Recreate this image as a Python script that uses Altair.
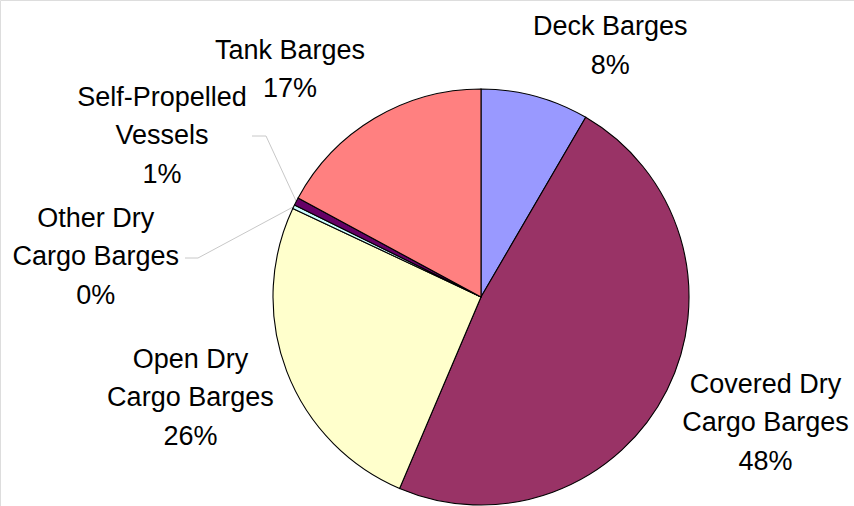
import math
import altair as alt
import pandas as pd

# ---- data ----
categories = ["Deck Barges", "Covered Dry Cargo Barges", "Open Dry Cargo Barges",
              "Other Dry Cargo Barges", "Self-Propelled Vessels", "Tank Barges"]
values = [8.4, 48.0, 25.6, 0.3, 0.6, 17.1]
labels = ["Deck Barges\n8%", "Covered Dry\nCargo Barges\n48%", "Open Dry\nCargo Barges\n26%",
          "Other Dry\nCargo Barges\n0%", "Self-Propelled\nVessels\n1%", "Tank Barges\n17%"]

# ---- style / layout ----
colors = ["#9999FF", "#993366", "#FFFFCC", "#CCFFFF", "#660066", "#FF8080"]
CX, CY, R = 481, 297, 208
LABEL_R = 250
LH = 38.5
label_offsets = [(64, -9), (61, 14), (-57, 12), (-160, 69), (-97, -46), (-63, -12)]
# leader lines: (category index, elbow point, end point)
leaders = [(4, (266, 136), (252, 136)), (3, (198, 258), (185, 258))]

df = pd.DataFrame({"cat": categories, "value": values, "label": labels,
                   "idx": list(range(len(categories)))})

base = alt.Chart(df).encode(
    theta=alt.Theta("value:Q", stack=True),
    order=alt.Order("idx:Q", sort="ascending"),
    x=alt.value(CX), y=alt.value(CY),
)

pie = base.mark_arc(outerRadius=R, stroke="black", strokeWidth=1.1).encode(
    color=alt.Color("cat:N", scale=alt.Scale(domain=categories, range=colors), legend=None)
)

text_layers = []
for i, name in enumerate(categories):
    dx, dy = label_offsets[i]
    n_lines = labels[i].count("\n") + 1
    dy = dy - (n_lines - 1) * LH / 2
    t = base.mark_text(radius=LABEL_R, dx=dx, dy=dy, fontSize=27, font="Liberation Sans",
                       lineBreak="\n", lineHeight=LH, align="center", baseline="middle",
                       color="black").encode(
        text=alt.condition(alt.datum.cat == name, "label:N", alt.value(""))
    )
    text_layers.append(t)

# leader line geometry from the slice mid-angles
total = sum(values)
cum = 0
mids = []
for v in values:
    mids.append((cum + v / 2) / total * 2 * math.pi)
    cum += v
rows = []
for g, (ci, elbow, end) in enumerate(leaders):
    a = mids[ci]
    px, py = CX + R * math.sin(a), CY - R * math.cos(a)
    for k, (xx, yy) in enumerate([(px, py), elbow, end]):
        rows.append({"lx": xx, "ly": yy, "grp": g, "ord": k})
ldf = pd.DataFrame(rows)
lines = alt.Chart(ldf).mark_line(color="#C8C8C8", strokeWidth=1).encode(
    x=alt.X("lx:Q", scale=None), y=alt.Y("ly:Q", scale=None),
    detail="grp:N", order="ord:Q"
)

chart = alt.layer(lines, pie, *text_layers).properties(
    width=854, height=506, autosize=alt.AutoSizeParams(type="none"), padding=0
).configure_view(stroke=None).configure(background="white")

chart.save("out.html", embed_options={"renderer": "svg", "actions": False})
